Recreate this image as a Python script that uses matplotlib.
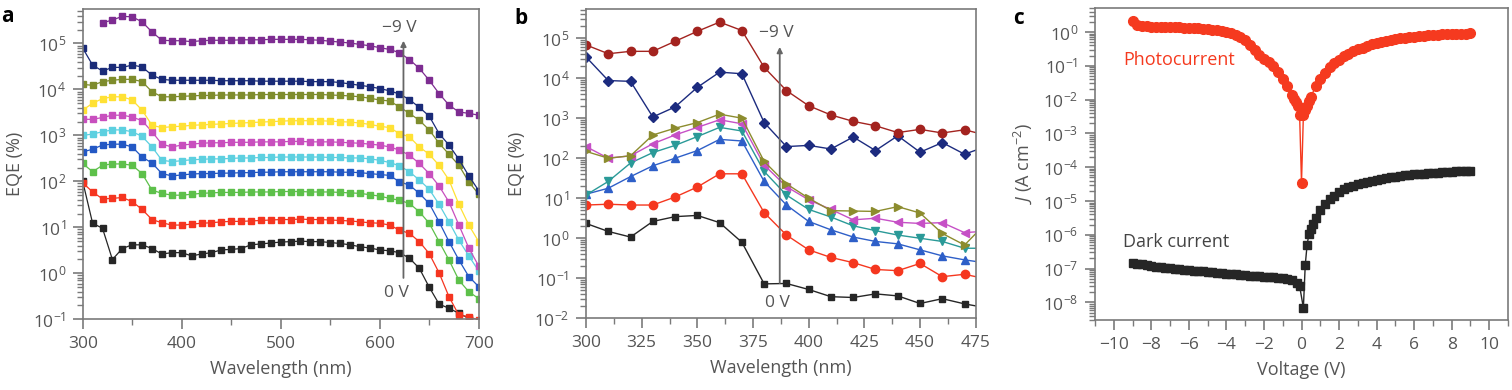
import numpy as np
import matplotlib
matplotlib.use('Agg')
import matplotlib.pyplot as plt
from matplotlib.ticker import LogLocator, NullFormatter, MultipleLocator

plt.rcParams['font.family'] = ['Open Sans', 'DejaVu Sans']
plt.rcParams['mathtext.fontset'] = 'custom'
plt.rcParams['mathtext.rm'] = 'Open Sans'
plt.rcParams['mathtext.it'] = 'Open Sans:italic'
plt.rcParams['mathtext.default'] = 'regular'

GREY = '#555555'
SPINE = '#7a7a7a'

# ---------------- panel a data (log10 of EQE %) ----------------
wavelength_a = np.arange(300, 701, 10)
a_purple = [np.nan, np.nan, 5.45, 5.51, 5.59, 5.58, 5.47, 5.25, 5.07, 5.06,
            5.06, 5.04, 5.06, 5.07, 5.07, 5.07, 5.08, 5.08, 5.08, 5.09,
            5.09, 5.09, 5.09, 5.08, 5.07, 5.05, 5.03, 5.01, 4.98, 4.95,
            4.91, 4.87, 4.80, 4.65, 4.46, 4.20, 3.91, 3.66, 3.51, 3.48, 3.44]
a_navy = [4.90, 4.53, 4.40, 4.48, 4.48, 4.53, 4.49, 4.31, 4.22, 4.20,
          4.20, 4.20, 4.20, 4.20, 4.19, 4.19, 4.19, 4.19, 4.18, 4.18,
          4.18, 4.18, 4.18, 4.17, 4.17, 4.17, 4.15, 4.12, 4.09, 4.06,
          4.02, 3.97, 3.90, 3.78, 3.61, 3.42, 3.04, 2.79, 2.48, 2.12, 1.80]
a_olive = [4.11, 4.09, 4.17, 4.20, 4.22, 4.22, 4.17, 3.95, 3.84, 3.84,
           3.85, 3.86, 3.87, 3.87, 3.88, 3.88, 3.88, 3.88, 3.89, 3.89,
           3.89, 3.89, 3.89, 3.89, 3.89, 3.88, 3.87, 3.86, 3.84, 3.81,
           3.77, 3.75, 3.62, 3.48, 3.33, 3.12, 2.83, 2.59, 2.35, 1.99, 1.72]
a_yellow = [3.55, 3.70, 3.80, 3.84, 3.84, 3.77, 3.55, 3.22, 3.17, 3.19,
            3.20, 3.22, 3.23, 3.24, 3.25, 3.26, 3.27, 3.28, 3.29, 3.30,
            3.31, 3.32, 3.32, 3.32, 3.32, 3.31, 3.30, 3.29, 3.27, 3.24,
            3.20, 3.17, 3.04, 2.97, 2.75, 2.59, 2.35, 2.03, 1.50, 1.05, 0.69]
a_magenta = [3.35, 3.35, 3.39, 3.44, 3.44, 3.40, 3.32, 3.08, 2.81, 2.75,
             2.79, 2.81, 2.83, 2.84, 2.84, 2.85, 2.85, 2.85, 2.86, 2.86,
             2.86, 2.87, 2.87, 2.86, 2.86, 2.86, 2.85, 2.84, 2.83, 2.81,
             2.79, 2.75, 2.68, 2.57, 2.39, 2.17, 1.90, 1.55, 1.05, 0.55, 0.16]
a_cyan = [3.00, 3.03, 3.08, 3.12, 3.12, 3.08, 2.98, 2.75, 2.46, 2.43,
          2.45, 2.47, 2.48, 2.49, 2.49, 2.50, 2.51, 2.51, 2.52, 2.52,
          2.53, 2.53, 2.53, 2.53, 2.53, 2.52, 2.52, 2.51, 2.51, 2.49,
          2.46, 2.41, 2.34, 2.21, 2.03, 1.83, 1.50, 1.12, 0.72, 0.38, 0.05]
a_blue = [2.64, 2.70, 2.79, 2.81, 2.81, 2.75, 2.53, 2.40, 2.17, 2.12,
          2.14, 2.16, 2.17, 2.17, 2.18, 2.18, 2.19, 2.19, 2.20, 2.20,
          2.21, 2.21, 2.21, 2.21, 2.21, 2.21, 2.20, 2.20, 2.19, 2.17,
          2.15, 2.13, 1.99, 1.92, 1.74, 1.52, 1.12, 0.69, 0.29, -0.07, -0.29]
a_green = [2.39, 2.21, 2.35, 2.38, 2.38, 2.35, 2.17, 1.81, 1.74, 1.70,
           1.70, 1.72, 1.74, 1.75, 1.76, 1.76, 1.76, 1.77, 1.77, 1.77,
           1.78, 1.78, 1.78, 1.77, 1.77, 1.77, 1.76, 1.75, 1.74, 1.71,
           1.68, 1.63, 1.59, 1.52, 1.34, 1.09, 0.69, 0.29, -0.15, -0.40, -0.55]
a_red = [1.97, 1.77, 1.62, 1.63, 1.65, 1.56, 1.39, 1.17, 1.10, 1.05,
         1.05, 1.07, 1.09, 1.10, 1.12, 1.13, 1.13, 1.14, 1.15, 1.16,
         1.17, 1.17, 1.18, 1.17, 1.17, 1.16, 1.15, 1.14, 1.12, 1.10,
         1.09, 1.05, 0.94, 0.87, 0.69, 0.43, 0.01, -0.51, -0.91, -0.94, -1.02]
a_black = [2.00, 1.09, 0.98, 0.30, 0.54, 0.62, 0.62, 0.54, 0.42, 0.45,
           0.45, 0.38, 0.42, 0.45, 0.51, 0.52, 0.54, 0.62, 0.64, 0.66,
           0.68, 0.69, 0.70, 0.69, 0.69, 0.67, 0.65, 0.62, 0.58, 0.55,
           0.51, 0.49, 0.45, 0.33, 0.11, -0.30, -0.67, -0.76, -0.87, -0.98, -1.05]
a_series = [a_purple, a_navy, a_olive, a_yellow, a_magenta,
            a_cyan, a_blue, a_green, a_red, a_black]
a_colors = ['#7d2c91', '#1a2b78', '#7e8c2c', '#ffe135', '#c84fbe',
            '#5dd0e0', '#2358c4', '#5dc04a', '#f53520', '#262626']

# ---------------- panel b data (log10 of EQE %) ----------------
wavelength_b = np.arange(300, 481, 10)
b_darkred = [4.83, 4.61, 4.67, 4.67, 4.92, 5.17, 5.40, 5.19, 4.27, 3.69,
             3.31, 3.08, 2.92, 2.81, 2.64, 2.72, 2.63, 2.71, 2.57]
b_navy = [4.53, 3.94, 3.92, 3.03, 3.28, 3.77, 4.15, 4.11, 2.89, 2.29,
          2.32, 2.23, 2.53, 2.19, 2.56, 2.15, 2.39, 2.10, 2.30]
b_olive = [2.17, 2.00, 2.06, 2.58, 2.75, 2.89, 3.10, 3.00, 1.92, 1.36,
           1.00, 0.69, 0.68, 0.67, 0.79, 0.63, 0.12, -0.17, 0.40]
b_magenta = [2.29, 2.00, 2.06, 2.36, 2.58, 2.77, 2.96, 2.86, 1.83, 1.29,
             0.96, 0.72, 0.46, 0.50, 0.40, 0.37, 0.39, 0.14, 0.18]
b_teal = [1.08, 1.42, 1.88, 2.14, 2.32, 2.54, 2.77, 2.68, 1.67, 1.08,
          0.72, 0.53, 0.31, 0.19, 0.08, 0.00, -0.08, -0.25, -0.25]
b_blue = [1.10, 1.25, 1.54, 1.81, 2.00, 2.19, 2.47, 2.43, 1.42, 0.83,
          0.42, 0.21, 0.03, -0.08, -0.14, -0.29, -0.44, -0.54, -0.62]
b_red = [0.83, 0.85, 0.83, 0.83, 1.03, 1.28, 1.61, 1.61, 0.64, 0.08,
         -0.29, -0.48, -0.61, -0.78, -0.81, -0.63, -0.96, -0.90, -1.02]
b_black = [0.37, 0.17, 0.03, 0.42, 0.54, 0.57, 0.39, -0.10, -1.14, -1.13,
           -1.28, -1.46, -1.48, -1.39, -1.44, -1.63, -1.51, -1.64, -1.74]
b_series = [b_darkred, b_navy, b_olive, b_magenta, b_teal, b_blue, b_red, b_black]
b_colors = ['#a3231f', '#1c2b7f', '#8c8c2e', '#c650c6', '#2a9a98',
            '#2e5fc8', '#f5371f', '#262626']
b_markers = ['o', 'D', '>', '<', 'v', '^', 'o', 's']
b_sizes = [6, 5, 6, 6, 6, 6, 6, 4.8]

# ---------------- panel c data (log10 of J, A cm^-2) ----------------
photo_v = [-9.0, -8.75, -8.5, -8.25, -8.0, -7.75, -7.5, -7.25, -7.0, -6.75,
           -6.5, -6.25, -6.0, -5.75, -5.5, -5.25, -5.0, -4.75, -4.5, -4.25,
           -4.0, -3.75, -3.5, -3.25, -3.0, -2.75, -2.5, -2.25, -2.0, -1.75,
           -1.5, -1.25, -1.0, -0.75, -0.5, -0.4, -0.3, -0.2, -0.1, 0.0,
           0.1, 0.2, 0.3, 0.4, 0.5, 0.75, 1.0, 1.25, 1.5, 1.75,
           2.0, 2.25, 2.5, 2.75, 3.0, 3.25, 3.5, 3.75, 4.0, 4.25,
           4.5, 4.75, 5.0, 5.25, 5.5, 5.75, 6.0, 6.25, 6.5, 6.75,
           7.0, 7.25, 7.5, 7.75, 8.0, 8.25, 8.5, 8.75, 9.0]
photo_j = [0.33, 0.22, 0.18, 0.17, 0.16, 0.16, 0.15, 0.15, 0.15, 0.14,
           0.14, 0.13, 0.13, 0.12, 0.11, 0.10, 0.09, 0.07, 0.05, 0.03,
           0.00, -0.03, -0.08, -0.15, -0.25, -0.38, -0.52, -0.68, -0.80, -0.90,
           -1.02, -1.18, -1.38, -1.60, -1.85, -1.98, -2.08, -2.20, -2.46, -4.46,
           -2.46, -2.30, -2.19, -2.05, -1.93, -1.60, -1.38, -1.20, -1.05, -0.92,
           -0.82, -0.72, -0.64, -0.57, -0.51, -0.46, -0.41, -0.37, -0.33, -0.30,
           -0.27, -0.24, -0.21, -0.19, -0.17, -0.15, -0.14, -0.12, -0.11, -0.10,
           -0.09, -0.08, -0.07, -0.065, -0.06, -0.055, -0.05, -0.045, -0.04]
dark_v = [-9.0, -8.75, -8.5, -8.25, -8.0, -7.75, -7.5, -7.25, -7.0, -6.75,
          -6.5, -6.25, -6.0, -5.75, -5.5, -5.25, -5.0, -4.75, -4.5, -4.25,
          -4.0, -3.75, -3.5, -3.25, -3.0, -2.75, -2.5, -2.25, -2.0, -1.75,
          -1.5, -1.25, -1.0, -0.75, -0.5, -0.25, -0.1, 0.1, 0.2, 0.3,
          0.4, 0.5, 0.6, 0.75, 1.0, 1.25, 1.5, 1.75, 2.0, 2.25,
          2.5, 2.75, 3.0, 3.25, 3.5, 3.75, 4.0, 4.25, 4.5, 4.75,
          5.0, 5.25, 5.5, 5.75, 6.0, 6.25, 6.5, 6.75, 7.0, 7.25,
          7.5, 7.75, 8.0, 8.25, 8.5, 8.75, 9.0]
dark_j = [-6.84, -6.86, -6.88, -6.90, -6.92, -6.94, -6.95, -6.97, -6.98, -7.00,
          -7.01, -7.03, -7.04, -7.06, -7.07, -7.08, -7.10, -7.11, -7.12, -7.14,
          -7.15, -7.16, -7.17, -7.19, -7.20, -7.21, -7.22, -7.23, -7.24, -7.25,
          -7.26, -7.27, -7.28, -7.30, -7.34, -7.42, -7.52, -8.16, -6.89, -6.29,
          -5.97, -5.82, -5.67, -5.50, -5.27, -5.10, -4.95, -4.84, -4.74, -4.66,
          -4.60, -4.55, -4.50, -4.46, -4.43, -4.40, -4.37, -4.35, -4.32, -4.30,
          -4.28, -4.26, -4.24, -4.23, -4.21, -4.20, -4.19, -4.18, -4.17, -4.16,
          -4.15, -4.14, -4.13, -4.12, -4.11, -4.11, -4.10]

W, H = 1512, 390
fig = plt.figure(figsize=(W / 100, H / 100), dpi=100)


def box(l, t, r, b):
    return [l / W, 1 - b / H, (r - l) / W, (b - t) / H]


def style(ax):
    for s in ax.spines.values():
        s.set_color(SPINE)
        s.set_linewidth(1.2)
    ax.tick_params(which='major', direction='out', length=7, width=1.2,
                   color=SPINE, labelcolor=GREY, labelsize=12.5, pad=5)
    ax.tick_params(which='minor', direction='out', length=4, width=1.0,
                   color=SPINE)
    ax.yaxis.set_major_locator(LogLocator(base=10, numticks=30))
    ax.yaxis.set_minor_locator(LogLocator(base=10, subs=np.arange(2, 10) * 0.1 * 10, numticks=30))
    ax.yaxis.set_minor_formatter(NullFormatter())


# ---------------- panel a ----------------
ax_a = fig.add_axes(box(82.7, 9, 478.7, 319.3))
for vals, c in zip(a_series[::-1], a_colors[::-1]):
    ax_a.plot(wavelength_a, 10 ** np.array(vals), '-s', color=c, lw=0.9,
              ms=5, mec=c, clip_on=True)
ax_a.set_yscale('log')
ax_a.set_xlim(300, 700)
ax_a.set_ylim(1e-1, 10 ** 5.75)
style(ax_a)
ax_a.xaxis.set_major_locator(MultipleLocator(100))
ax_a.xaxis.set_minor_locator(MultipleLocator(50))
ax_a.set_xlabel('Wavelength (nm)', color=GREY, fontsize=13, labelpad=6)
ax_a.set_ylabel('EQE (%)', color=GREY, fontsize=13, labelpad=6)
ax_a.annotate('', xy=(624, 10 ** 5.06), xytext=(624, 10 ** -0.1),
              arrowprops=dict(arrowstyle='-|>', color='#666666', lw=1.3,
                              mutation_scale=8, shrinkA=0, shrinkB=0))
ax_a.text(620, 10 ** 5.33, '\u22129 V', color=GREY, fontsize=12.5,
          ha='center', va='center')
ax_a.text(617, 10 ** -0.43, '0 V', color=GREY, fontsize=12.5,
          ha='center', va='center')
fig.text(7 / W, 1 - 16 / H, 'a', fontsize=15, fontweight='bold',
         ha='center', va='center')

# ---------------- panel b ----------------
ax_b = fig.add_axes(box(586, 9.3, 975.7, 318.3))
for vals, c, m, ms in zip(b_series[::-1], b_colors[::-1], b_markers[::-1],
                          b_sizes[::-1]):
    ax_b.plot(wavelength_b, 10 ** np.array(vals), '-', marker=m, color=c,
              lw=1.0, ms=ms, mec=c)
ax_b.set_yscale('log')
ax_b.set_xlim(300, 475)
ax_b.set_ylim(1e-2, 10 ** 5.72)
style(ax_b)
ax_b.xaxis.set_major_locator(MultipleLocator(25))
ax_b.xaxis.set_minor_locator(MultipleLocator(12.5))
ax_b.set_xlabel('Wavelength (nm)', color=GREY, fontsize=13, labelpad=6)
ax_b.set_ylabel('EQE (%)', color=GREY, fontsize=13, labelpad=6)
ax_b.annotate('', xy=(387, 10 ** 4.78), xytext=(387, 10 ** -1.12),
              arrowprops=dict(arrowstyle='-|>', color='#666666', lw=1.3,
                              mutation_scale=8, shrinkA=0, shrinkB=0))
ax_b.text(385.6, 10 ** 5.12, '\u22129 V', color=GREY, fontsize=12.5,
          ha='center', va='center')
ax_b.text(386, 10 ** -1.62, '0 V', color=GREY, fontsize=12.5,
          ha='center', va='center')
fig.text(521 / W, 1 - 18 / H, 'b', fontsize=15, fontweight='bold',
         ha='center', va='center')

# ---------------- panel c ----------------
ax_c = fig.add_axes(box(1095, 8, 1508, 320))
ax_c.plot(photo_v, 10 ** np.array(photo_j), '-o', color='#f53a1f', lw=1.0,
          ms=7, mec='#f53a1f')
ax_c.plot(dark_v, 10 ** np.array(dark_j), '-s', color='#262626', lw=1.0,
          ms=6, mec='#262626')
ax_c.set_yscale('log')
ax_c.set_xlim(-11, 11)
ax_c.set_ylim(3e-9, 10 ** 0.71)
style(ax_c)
ax_c.xaxis.set_major_locator(MultipleLocator(2))
ax_c.xaxis.set_minor_locator(MultipleLocator(1))
ax_c.set_xlabel('Voltage (V)', color=GREY, fontsize=13, labelpad=6)
ax_c.set_ylabel(r'$\mathit{J}$ (A cm$^{-2}$)', color=GREY, fontsize=13, labelpad=6)
ax_c.text(-9.5, 10 ** -0.82, 'Photocurrent', color='#f53a1f', fontsize=13,
          ha='left', va='center')
ax_c.text(-9.5, 10 ** -6.21, 'Dark current', color='#444444', fontsize=13,
          ha='left', va='center')
fig.text(1019 / W, 1 - 19 / H, 'c', fontsize=15, fontweight='bold',
         ha='center', va='center')

fig.savefig('out.png', dpi=100)
